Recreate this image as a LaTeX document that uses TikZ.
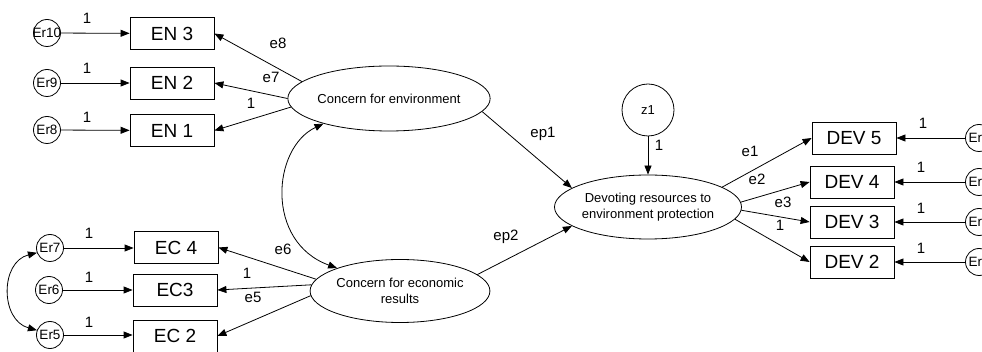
\documentclass[tikz,border=0pt]{standalone}
\usepackage{fontspec}
\setmainfont{Liberation Sans}
\usetikzlibrary{shapes.geometric,arrows.meta}
\begin{document}
\begin{tikzpicture}[x=1pt,y=-1pt,line width=0.8pt,
  obs/.style={draw, rectangle, minimum width=84pt, minimum height=32pt, inner sep=0pt, font=\fontsize{19}{22}\selectfont},
  lat/.style={draw, ellipse, inner sep=0pt, align=center, font=\fontsize{13}{15.5}\selectfont},
  err/.style={draw, circle, minimum size=27pt, inner sep=0pt, font=\fontsize{13.5}{15}\selectfont},
  lbl/.style={font=\fontsize{15}{17}\selectfont, inner sep=0pt},
  arr/.style={-{Triangle[length=9pt,width=7pt]}},
  dbl/.style={{Triangle[length=9pt,width=7pt]}-{Triangle[length=9pt,width=7pt]}}]
\useasboundingbox (0,0) rectangle (982,352);
% observed boxes left
\node[obs] (EN3) at (172,33.5) {EN 3};
\node[obs] (EN2) at (172,83) {EN 2};
\node[obs] (EN1) at (172,130.5) {EN 1};
\node[obs] (EC4) at (176,247.5) {EC 4};
\node[obs] (EC3) at (175,290) {EC3};
\node[obs] (EC2) at (175,336) {EC 2};
% errors left
\node[err] (Er10) at (47,33) {\makebox[0pt]{Er10}};
\node[err] (Er9) at (47,83) {\makebox[0pt]{Er9}};
\node[err] (Er8) at (47,130) {\makebox[0pt]{Er8}};
\node[err] (Er7) at (50,248) {\makebox[0pt]{Er7}};
\node[err] (Er6) at (49,290) {\makebox[0pt]{Er6}};
\node[err] (Er5) at (50,335) {\makebox[0pt]{Er5}};
% latent
\node[lat, minimum width=168pt, minimum height=65pt] (env) at (389,98.5) {Concern for environment};
\node[lat, minimum width=166pt, minimum height=63pt] (econ) at (400,291) {Concern for economic\\results};
\node[lat, minimum width=170pt, minimum height=64pt] (devo) at (648,207) {Devoting resources to\\environment protection};
\node[err, minimum size=52pt, font=\fontsize{13}{15}\selectfont] (z1) at (648,110) {z1};
% observed right
\node[obs] (DEV5) at (854,138) {DEV 5};
\node[obs] (DEV4) at (852,182) {DEV 4};
\node[obs] (DEV3) at (852,222) {DEV 3};
\node[obs] (DEV2) at (852,262) {DEV 2};
\node[err] (Er1) at (979,138) {\makebox[0pt]{Er1}};
\node[err] (Er2) at (979,182) {\makebox[0pt]{Er2}};
\node[err] (Er3) at (979,222) {\makebox[0pt]{Er3}};
\node[err] (Er4) at (979,262) {\makebox[0pt]{Er4}};
% error arrows left
\draw[arr] (Er10) -- (EN3);
\draw[arr] (Er9) -- (EN2);
\draw[arr] (Er8) -- (EN1);
\draw[arr] (Er7) -- (EC4.west |- Er7);
\draw[arr] (Er6) -- (EC3);
\draw[arr] (Er5) -- (EC2.west |- Er5);
\draw[dbl] (Er7.200) .. controls (0,262) and (0,320) .. (Er5.160);
% loadings left
\draw[arr] (env.169) -- (EN3.east);
\draw[arr] (env.180) -- (EN2.east);
\draw[arr] (env.185) -- (EN1.east);
\draw[arr] (econ.172) -- (EC4.east);
\draw[arr] (econ.176) -- (EC3.east);
\draw[arr] (econ.183) -- (EC2.east);
\draw[dbl] (env.201) .. controls (272,148) and (265,242) .. (econ.160);
% structural
\draw[arr] (env.352) -- (devo.166);
\draw[arr] (econ.12) -- (devo.194);
\draw[arr] (z1) -- (devo);
% loadings right
\draw[arr] (devo.15) -- (DEV5.west);
\draw[arr] (devo.3) -- (DEV4.west);
\draw[arr] (devo.358) -- (DEV3.west);
\draw[arr] (devo.352) -- (DEV2.west);
\draw[arr] (Er1) -- (DEV5);
\draw[arr] (Er2) -- (DEV4);
\draw[arr] (Er3) -- (DEV3);
\draw[arr] (Er4) -- (DEV2);
% labels
\node[lbl] (l1) at (87,18) {1};
\node[lbl] (l2) at (87,68) {1};
\node[lbl] (l3) at (87,117) {1};
\node[lbl] (l4) at (89,233) {1};
\node[lbl] (l5) at (89,277) {1};
\node[lbl] (l6) at (89,322) {1};
\node[lbl] (e8) at (278,43) {e8};
\node[lbl] (e7) at (271,77) {e7};
\node[lbl] (l7) at (251,103) {1};
\node[lbl] (e6) at (283,249) {e6};
\node[lbl] (l8) at (247,273) {1};
\node[lbl] (e5) at (253,297) {e5};
\node[lbl] (ep1) at (543,134) {ep1};
\node[lbl] (ep2) at (506,237) {ep2};
\node[lbl] (l9) at (659,145) {1};
\node[lbl] (e1) at (750,151) {e1};
\node[lbl] (e2) at (757,179) {e2};
\node[lbl] (e3) at (783,202) {e3};
\node[lbl] (l10) at (780,225) {1};
\node[lbl] (l11) at (923,123) {1};
\node[lbl] (l12) at (921,167) {1};
\node[lbl] (l13) at (921,208) {1};
\node[lbl] (l14) at (921,248) {1};
\end{tikzpicture}
\end{document}
